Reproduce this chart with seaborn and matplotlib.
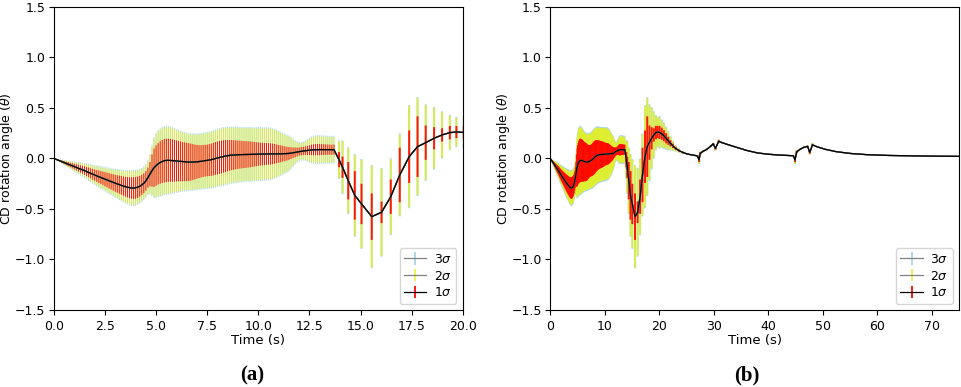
import matplotlib
matplotlib.use('Agg')
import matplotlib.pyplot as plt
import numpy as np
import pandas as pd
import seaborn as sns

# solver output: fine 0.1 s steps up to 13.7 s
t_dense = np.linspace(0, 13.7, 138)
mean_dense = [
    0.000, -0.008, -0.016, -0.024, -0.032, -0.040, -0.048, -0.056, -0.064, -0.072,
    -0.080, -0.088, -0.096, -0.104, -0.112, -0.120, -0.129, -0.138, -0.147, -0.156,
    -0.165, -0.173, -0.181, -0.189, -0.197, -0.205, -0.213, -0.221, -0.229, -0.237,
    -0.245, -0.252, -0.259, -0.266, -0.273, -0.280, -0.285, -0.289, -0.292, -0.293,
    -0.290, -0.284, -0.275, -0.262, -0.245, -0.222, -0.190, -0.155, -0.120, -0.092,
    -0.070, -0.053, -0.040, -0.030, -0.022, -0.019, -0.018, -0.019, -0.021, -0.023,
    -0.025, -0.027, -0.029, -0.031, -0.033, -0.035, -0.036, -0.036, -0.036, -0.035,
    -0.033, -0.031, -0.028, -0.025, -0.022, -0.020, -0.016, -0.012, -0.007, -0.001,
    0.005, 0.010, 0.015, 0.020, 0.024, 0.028, 0.031, 0.033, 0.035, 0.036,
    0.037, 0.038, 0.038, 0.039, 0.039, 0.040, 0.040, 0.041, 0.041, 0.042,
    0.043, 0.043, 0.044, 0.044, 0.045, 0.045, 0.045, 0.045, 0.046, 0.046,
    0.046, 0.046, 0.047, 0.047, 0.048, 0.050, 0.053, 0.056, 0.060, 0.064,
    0.068, 0.071, 0.074, 0.077, 0.080, 0.083, 0.085, 0.086, 0.087, 0.088,
    0.088, 0.088, 0.088, 0.088, 0.087, 0.087, 0.087, 0.087]
s1_dense = [
    0.000, 0.003, 0.006, 0.008, 0.011, 0.014, 0.017, 0.020, 0.022, 0.025,
    0.028, 0.031, 0.034, 0.036, 0.039, 0.042, 0.045, 0.048, 0.050, 0.053,
    0.056, 0.059, 0.062, 0.064, 0.067, 0.070, 0.073, 0.076, 0.078, 0.081,
    0.084, 0.087, 0.090, 0.092, 0.095, 0.098, 0.101, 0.104, 0.106, 0.108,
    0.108, 0.106, 0.103, 0.100, 0.098, 0.097, 0.100, 0.120, 0.160, 0.190,
    0.200, 0.205, 0.210, 0.213, 0.215, 0.215, 0.214, 0.212, 0.210, 0.207,
    0.204, 0.200, 0.197, 0.194, 0.192, 0.190, 0.187, 0.183, 0.178, 0.172,
    0.167, 0.163, 0.160, 0.158, 0.157, 0.157, 0.158, 0.160, 0.162, 0.163,
    0.164, 0.164, 0.163, 0.161, 0.158, 0.155, 0.152, 0.149, 0.146, 0.143,
    0.140, 0.138, 0.136, 0.134, 0.132, 0.130, 0.128, 0.125, 0.122, 0.119,
    0.116, 0.113, 0.111, 0.109, 0.108, 0.107, 0.105, 0.102, 0.098, 0.093,
    0.088, 0.083, 0.078, 0.073, 0.068, 0.063, 0.058, 0.053, 0.048, 0.044,
    0.041, 0.040, 0.040, 0.042, 0.045, 0.048, 0.052, 0.055, 0.056, 0.056,
    0.055, 0.054, 0.053, 0.052, 0.051, 0.050, 0.050, 0.050]
s2_dense = [
    0.000, 0.004, 0.009, 0.013, 0.018, 0.022, 0.026, 0.031, 0.035, 0.040,
    0.044, 0.048, 0.053, 0.057, 0.062, 0.066, 0.070, 0.075, 0.079, 0.084,
    0.088, 0.092, 0.097, 0.101, 0.106, 0.110, 0.114, 0.119, 0.123, 0.128,
    0.132, 0.136, 0.141, 0.145, 0.150, 0.154, 0.158, 0.162, 0.165, 0.167,
    0.167, 0.164, 0.160, 0.157, 0.155, 0.154, 0.160, 0.190, 0.240, 0.290,
    0.310, 0.320, 0.327, 0.330, 0.331, 0.330, 0.327, 0.322, 0.316, 0.310,
    0.303, 0.297, 0.291, 0.286, 0.282, 0.279, 0.276, 0.274, 0.272, 0.271,
    0.270, 0.269, 0.269, 0.269, 0.270, 0.271, 0.272, 0.274, 0.275, 0.276,
    0.277, 0.278, 0.278, 0.278, 0.277, 0.276, 0.274, 0.272, 0.270, 0.268,
    0.266, 0.264, 0.263, 0.262, 0.261, 0.260, 0.259, 0.258, 0.257, 0.256,
    0.255, 0.254, 0.253, 0.252, 0.251, 0.250, 0.247, 0.242, 0.235, 0.226,
    0.216, 0.206, 0.196, 0.186, 0.176, 0.166, 0.150, 0.130, 0.110, 0.095,
    0.085, 0.080, 0.082, 0.090, 0.100, 0.110, 0.120, 0.126, 0.130, 0.131,
    0.131, 0.130, 0.129, 0.128, 0.127, 0.126, 0.125, 0.125]
s3_dense = [
    0.000, 0.005, 0.010, 0.015, 0.020, 0.025, 0.030, 0.035, 0.040, 0.045,
    0.050, 0.055, 0.060, 0.065, 0.070, 0.075, 0.080, 0.085, 0.090, 0.095,
    0.100, 0.104, 0.109, 0.113, 0.118, 0.122, 0.126, 0.131, 0.135, 0.140,
    0.144, 0.148, 0.153, 0.157, 0.162, 0.166, 0.170, 0.174, 0.177, 0.179,
    0.179, 0.176, 0.172, 0.169, 0.167, 0.166, 0.172, 0.202, 0.252, 0.302,
    0.322, 0.332, 0.339, 0.342, 0.343, 0.342, 0.339, 0.334, 0.328, 0.322,
    0.315, 0.309, 0.303, 0.298, 0.294, 0.291, 0.288, 0.286, 0.284, 0.283,
    0.282, 0.281, 0.281, 0.281, 0.282, 0.283, 0.284, 0.286, 0.287, 0.288,
    0.289, 0.290, 0.290, 0.290, 0.289, 0.288, 0.286, 0.284, 0.282, 0.280,
    0.278, 0.276, 0.275, 0.274, 0.273, 0.272, 0.271, 0.270, 0.269, 0.268,
    0.267, 0.266, 0.265, 0.264, 0.263, 0.262, 0.259, 0.254, 0.247, 0.238,
    0.228, 0.218, 0.208, 0.198, 0.188, 0.178, 0.162, 0.142, 0.122, 0.107,
    0.097, 0.092, 0.094, 0.102, 0.112, 0.122, 0.132, 0.138, 0.142, 0.143,
    0.143, 0.142, 0.141, 0.140, 0.139, 0.138, 0.137, 0.137]

# coarser (adaptive) steps afterwards
t_sparse = [13.95, 14.12, 14.40, 14.72, 15.05, 15.55, 16.03, 16.48, 16.92, 17.38,
            17.79, 18.19, 18.60, 18.99, 19.37, 19.69, 20.05, 20.45, 20.85, 21.25,
            21.65, 22.05, 22.5, 23.0, 23.6, 24.3, 25.1, 26.0, 27.0, 27.3,
            27.5, 28.0, 28.7, 29.4, 29.9, 30.3, 30.9, 31.6, 33.0, 34.5,
            36.0, 38.0, 40.0, 42.0, 44.0, 44.6, 44.9, 45.2, 45.8, 46.5,
            47.2, 47.6, 48.1, 49.0, 50.5, 52.5, 55.0, 58.0, 62.0, 66.0,
            70.0, 75.0]
mean_sparse = [-0.012, -0.087, -0.22, -0.365, -0.45, -0.576, -0.533, -0.378, -0.163, 0.018,
               0.117, 0.157, 0.20, 0.233, 0.256, 0.262, 0.258, 0.245, 0.225, 0.20,
               0.175, 0.15, 0.125, 0.10, 0.078, 0.06, 0.045, 0.035, 0.026, -0.015,
               0.05, 0.07, 0.09, 0.12, 0.145, 0.10, 0.17, 0.155, 0.13, 0.105,
               0.08, 0.055, 0.042, 0.034, 0.029, 0.027, -0.015, 0.065, 0.09, 0.11,
               0.12, 0.06, 0.135, 0.115, 0.09, 0.067, 0.05, 0.038, 0.03, 0.026,
               0.023, 0.021]
s1_sparse = [0.075, 0.105, 0.185, 0.24, 0.20, 0.23, 0.107, 0.17, 0.27, 0.26,
             0.30, 0.17, 0.11, 0.066, 0.066, 0.06, 0.065, 0.06, 0.055, 0.05,
             0.04, 0.03, 0.022, 0.015, 0.01, 0.007, 0.005, 0.004, 0.004, 0.02,
             0.012, 0.006, 0.005, 0.005, 0.006, 0.012, 0.01, 0.005, 0.003, 0.002,
             0.002, 0.001, 0.001, 0.001, 0.001, 0.002, 0.02, 0.012, 0.005, 0.004,
             0.005, 0.012, 0.01, 0.004, 0.002, 0.002, 0.001, 0.001, 0.001, 0.001,
             0.001, 0.001]
s2_sparse = [0.18, 0.255, 0.32, 0.40, 0.435, 0.50, 0.43, 0.37, 0.40, 0.50,
             0.48, 0.37, 0.30, 0.225, 0.165, 0.14, 0.15, 0.13, 0.12, 0.105,
             0.085, 0.065, 0.045, 0.03, 0.02, 0.013, 0.009, 0.007, 0.007, 0.035,
             0.02, 0.01, 0.008, 0.008, 0.01, 0.02, 0.018, 0.008, 0.005, 0.004,
             0.003, 0.002, 0.002, 0.002, 0.002, 0.003, 0.035, 0.02, 0.008, 0.007,
             0.008, 0.02, 0.018, 0.006, 0.004, 0.003, 0.002, 0.002, 0.001, 0.001,
             0.001, 0.001]
s3_sparse = [0.19, 0.265, 0.33, 0.41, 0.445, 0.51, 0.44, 0.38, 0.41, 0.51,
             0.49, 0.38, 0.31, 0.235, 0.175, 0.15, 0.16, 0.14, 0.13, 0.115,
             0.095, 0.072, 0.05, 0.034, 0.022, 0.015, 0.01, 0.008, 0.008, 0.04,
             0.022, 0.011, 0.009, 0.009, 0.011, 0.022, 0.02, 0.009, 0.006, 0.004,
             0.003, 0.002, 0.002, 0.002, 0.002, 0.003, 0.04, 0.022, 0.009, 0.008,
             0.009, 0.022, 0.02, 0.007, 0.004, 0.003, 0.002, 0.002, 0.001, 0.001,
             0.001, 0.001]

df = pd.DataFrame({
    't': np.concatenate([t_dense, t_sparse]),
    'mean': mean_dense + mean_sparse,
    's1': s1_dense + s1_sparse,
    's2': s2_dense + s2_sparse,
    's3': s3_dense + s3_sparse,
})

plt.rcParams['font.size'] = 9
plt.rcParams['ytick.major.pad'] = 2.5

fig = plt.figure(figsize=(9.62, 3.87), dpi=100)
ax1 = fig.add_axes([0.056, 0.199, 0.425, 0.783])
ax2 = fig.add_axes([0.572, 0.199, 0.425, 0.783])

# thin bars where the solver steps are fine, thicker where they are coarse
bar_w = np.where(df.t <= 13.75, 0.75, 1.4)

levels = [('s3', 'gray', '#add8e6', '3$\\sigma$'),
          ('s2', 'gray', (0.9, 0.95, 0.1, 0.75), '2$\\sigma$'),
          ('s1', 'k', (1, 0, 0, 0.9), '1$\\sigma$')]

for ax, xmax, xt in [(ax1, 20, np.arange(0, 20.1, 2.5)), (ax2, 75, np.arange(0, 71, 10))]:
    bars = []
    for col, lc, ec, lab in levels:
        eb = ax.errorbar(df.t, df['mean'], yerr=df[col], color=lc, lw=0.9,
                         ecolor=ec, elinewidth=1.4, label=lab)
        bars.append(eb[2][0])
    sns.lineplot(data=df, x='t', y='mean', color='k', lw=0.9, ax=ax, legend=False)
    # legend first, so its handles keep the plain bar width
    ax.legend(loc='lower right', fontsize=9, labelspacing=0.3, borderpad=0.35,
              handlelength=1.8, handletextpad=0.6)
    for bc in bars:
        bc.set_linewidths(bar_w)
        bc.set_snap(False)
    ax.set_xlim(0, xmax)
    ax.set_ylim(-1.5, 1.5)
    ax.set_xticks(xt)
    ax.set_yticks(np.arange(-1.5, 1.6, 0.5))
    ax.set_xlabel('Time (s)', fontsize=9.5, labelpad=1)
    ax.set_ylabel('CD rotation angle ($\\theta$)', fontsize=9)
    ax.yaxis.set_label_coords(-0.094, 0.5)

ax1.xaxis.set_major_formatter(matplotlib.ticker.FormatStrFormatter('%.1f'))

fig.text(0.262, 0.031, '(a)', ha='center', va='center', fontsize=15,
         fontweight='bold', family='Liberation Serif')
fig.text(0.7765, 0.031, '(b)', ha='center', va='center', fontsize=15,
         fontweight='bold', family='Liberation Serif')

fig.savefig('out.png', dpi=100)
